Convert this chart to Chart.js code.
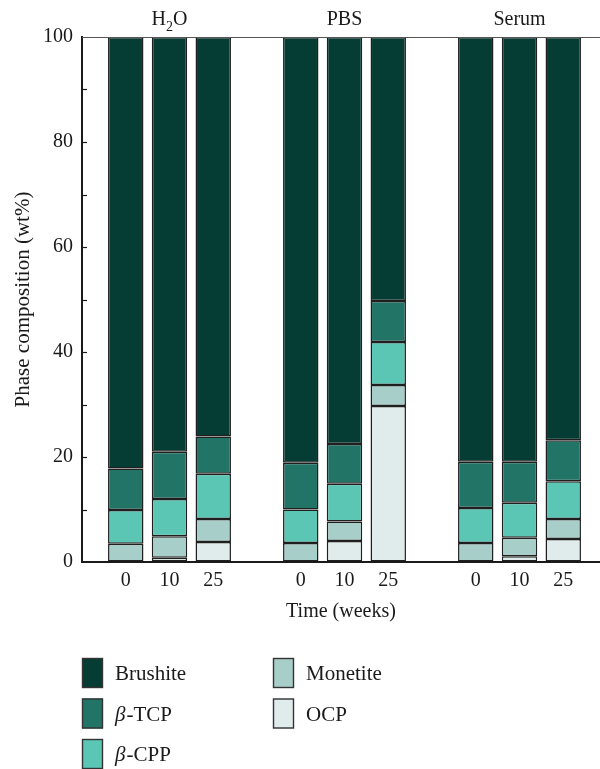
<!DOCTYPE html>
<html><head><meta charset="utf-8">
<script src="https://cdn.jsdelivr.net/npm/chart.js@4/dist/chart.umd.min.js"></script>
<style>html,body{margin:0;padding:0;background:#fff}#wrap{width:600px;height:769px;position:relative}</style>
</head><body><div id="wrap"><canvas id="c"></canvas></div>
<script>
// ---- data ----
const groups = ['H₂O', 'PBS', 'Serum'];
const timeLabels = ['0', '10', '25', '0', '10', '25', '0', '10', '25'];
const xPositions = [1, 2, 3, 5, 6, 7, 9, 10, 11];
const yTickLabels = ['0', '20', '40', '60', '80', '100'];
const phases = ['Brushite', 'β-TCP', 'β-CPP', 'Monetite', 'OCP'];
// values (wt%) per bar: H2O 0/10/25, PBS 0/10/25, Serum 0/10/25
const ocp      = [0.0, 0.8, 3.8, 0.0, 4.0, 29.7, 0.0, 1.1, 4.4];
const monetite = [3.5, 4.1, 4.4, 3.6, 3.7, 4.0, 3.6, 3.5, 3.8];
const bCPP     = [6.4, 7.1, 8.6, 6.4, 7.2, 8.2, 6.7, 6.7, 7.2];
const bTCP     = [7.9, 9.0, 7.1, 8.9, 7.6, 7.8, 8.8, 7.8, 7.8];
const brushite = [82.2, 79.0, 76.1, 81.1, 77.5, 50.3, 80.9, 80.9, 76.8];

const colors = {
  'Brushite': '#053c33',
  'β-TCP': '#217466',
  'β-CPP': '#5bc6b4',
  'Monetite': '#a7cec9',
  'OCP': '#dfeceb'
};
const FONT = '"Liberation Serif", "DejaVu Serif", serif';

function pts(arr) { return arr.map((v, i) => ({ x: xPositions[i], y: v })); }

// stacking order bottom -> top
const stackOrder = [['OCP', ocp], ['Monetite', monetite], ['β-CPP', bCPP], ['β-TCP', bTCP], ['Brushite', brushite]];

const datasets = stackOrder.map(([name, arr]) => ({
  label: name,
  data: pts(arr),
  backgroundColor: colors[name],
  borderColor: '#1f1f1f',
  borderWidth: 1.5,
  borderSkipped: false,
  barPercentage: 0.81,
  categoryPercentage: 1.0
}));

function drawRich(ctx, text, x, y, size, align) {
  const subs = '₀₁₂₃₄₅₆₇₈₉';
  const parts = [];
  for (const ch of text) {
    const si = subs.indexOf(ch);
    if (si >= 0) parts.push({ t: String(si), sub: true });
    else if (ch === 'β') parts.push({ t: ch, it: true });
    else {
      const last = parts[parts.length - 1];
      if (last && !last.sub && !last.it) last.t += ch; else parts.push({ t: ch });
    }
  }
  const fontOf = p => (p.it ? 'italic ' : '') + (p.sub ? Math.round(size * 0.72) : size) + 'px ' + FONT;
  let w = 0;
  parts.forEach(p => { ctx.font = fontOf(p); p.w = ctx.measureText(p.t).width + (p.it ? 1 : 0); w += p.w; });
  let cx = align === 'center' ? x - w / 2 : x;
  ctx.textAlign = 'left';
  ctx.textBaseline = 'alphabetic';
  parts.forEach(p => {
    ctx.font = fontOf(p);
    ctx.fillText(p.t, cx, y + (p.sub ? size * 0.28 : 0));
    cx += p.w;
  });
}

const decor = {
  id: 'decor',
  afterDraw(chart) {
    const ctx = chart.ctx;
    const ca = chart.chartArea;
    const xs = chart.scales.x, ys = chart.scales.y;
    ctx.save();
    // top frame line
    ctx.strokeStyle = '#555';
    ctx.lineWidth = 1;
    ctx.beginPath();
    ctx.moveTo(ca.left, Math.round(ca.top) + 0.5);
    ctx.lineTo(ca.right, Math.round(ca.top) + 0.5);
    ctx.stroke();
    // inward y ticks
    ctx.strokeStyle = '#1a1a1a';
    ctx.lineWidth = 1.2;
    ys.ticks.forEach(t => {
      if (t.value === 0 || t.value === 100) return;
      const py = Math.round(ys.getPixelForValue(t.value)) + 0.5;
      ctx.beginPath();
      ctx.moveTo(ca.left, py);
      ctx.lineTo(ca.left + 5, py);
      ctx.stroke();
    });
    // group labels
    ctx.fillStyle = '#1a1a1a';
    groups.forEach((g, gi) => {
      const p = xPositions.slice(gi * 3, gi * 3 + 3);
      const cx = (xs.getPixelForValue(p[0]) + xs.getPixelForValue(p[2])) / 2;
      drawRich(ctx, g, cx, ca.top - 12, 20, 'center');
    });
    // legend (column-major, 3 rows)
    const byName = {};
    chart.data.datasets.forEach(d => byName[d.label] = d);
    phases.forEach((name, i) => {
      const col = Math.floor(i / 3), row = i % 3;
      const bx = [82, 273][col];
      const by = 658 + row * 40.5;
      ctx.fillStyle = byName[name].backgroundColor;
      ctx.fillRect(bx, by, 21, 30);
      ctx.strokeStyle = '#333';
      ctx.lineWidth = 1.4;
      ctx.strokeRect(bx + 0.5, by + 0.5, 20, 29);
      ctx.fillStyle = '#1a1a1a';
      drawRich(ctx, name, bx + 33, by + 22, 21, 'left');
    });
    ctx.restore();
  }
};

new Chart(document.getElementById('c'), {
  type: 'bar',
  data: { datasets },
  options: {
    responsive: true,
    maintainAspectRatio: false,
    animation: false,
    layout: { padding: { top: 37, right: 0, left: 0, bottom: 143 } },
    plugins: { legend: { display: false }, tooltip: { enabled: false } },
    scales: {
      x: {
        type: 'linear',
        offset: false,
        stacked: true,
        min: 0,
        max: 11.84,
        afterBuildTicks(scale) { scale.ticks = xPositions.map(v => ({ value: v })); },
        afterFit(scale) { scale.height = 64; },
        ticks: {
          autoSkip: false,
          maxRotation: 0,
          padding: 7,
          color: '#1a1a1a',
          font: { family: FONT, size: 20 },
          callback: (v) => { const i = xPositions.indexOf(v); return i >= 0 ? timeLabels[i] : ''; }
        },
        grid: { display: true, drawOnChartArea: false, drawTicks: false },
        border: { display: true, color: '#1a1a1a', width: 2 },
        title: { display: true, text: 'Time (weeks)', color: '#1a1a1a', font: { family: FONT, size: 20 }, padding: { top: 0, bottom: 2 } }
      },
      y: {
        stacked: true,
        min: 0,
        max: 100,
        afterFit(scale) { scale.width = 82; },
        ticks: {
          stepSize: 10,
          padding: 9,
          color: '#1a1a1a',
          font: { family: FONT, size: 20 },
          callback: (v) => yTickLabels.includes(String(v)) ? String(v) : ''
        },
        grid: { display: true, drawOnChartArea: false, drawTicks: false },
        border: { display: true, color: '#1a1a1a', width: 2 },
        title: { display: true, text: 'Phase composition (wt%)', color: '#1a1a1a', font: { family: FONT, size: 21 }, padding: { top: 11, bottom: 0 } }
      }
    }
  },
  plugins: [decor]
});
</script>
</body></html>
